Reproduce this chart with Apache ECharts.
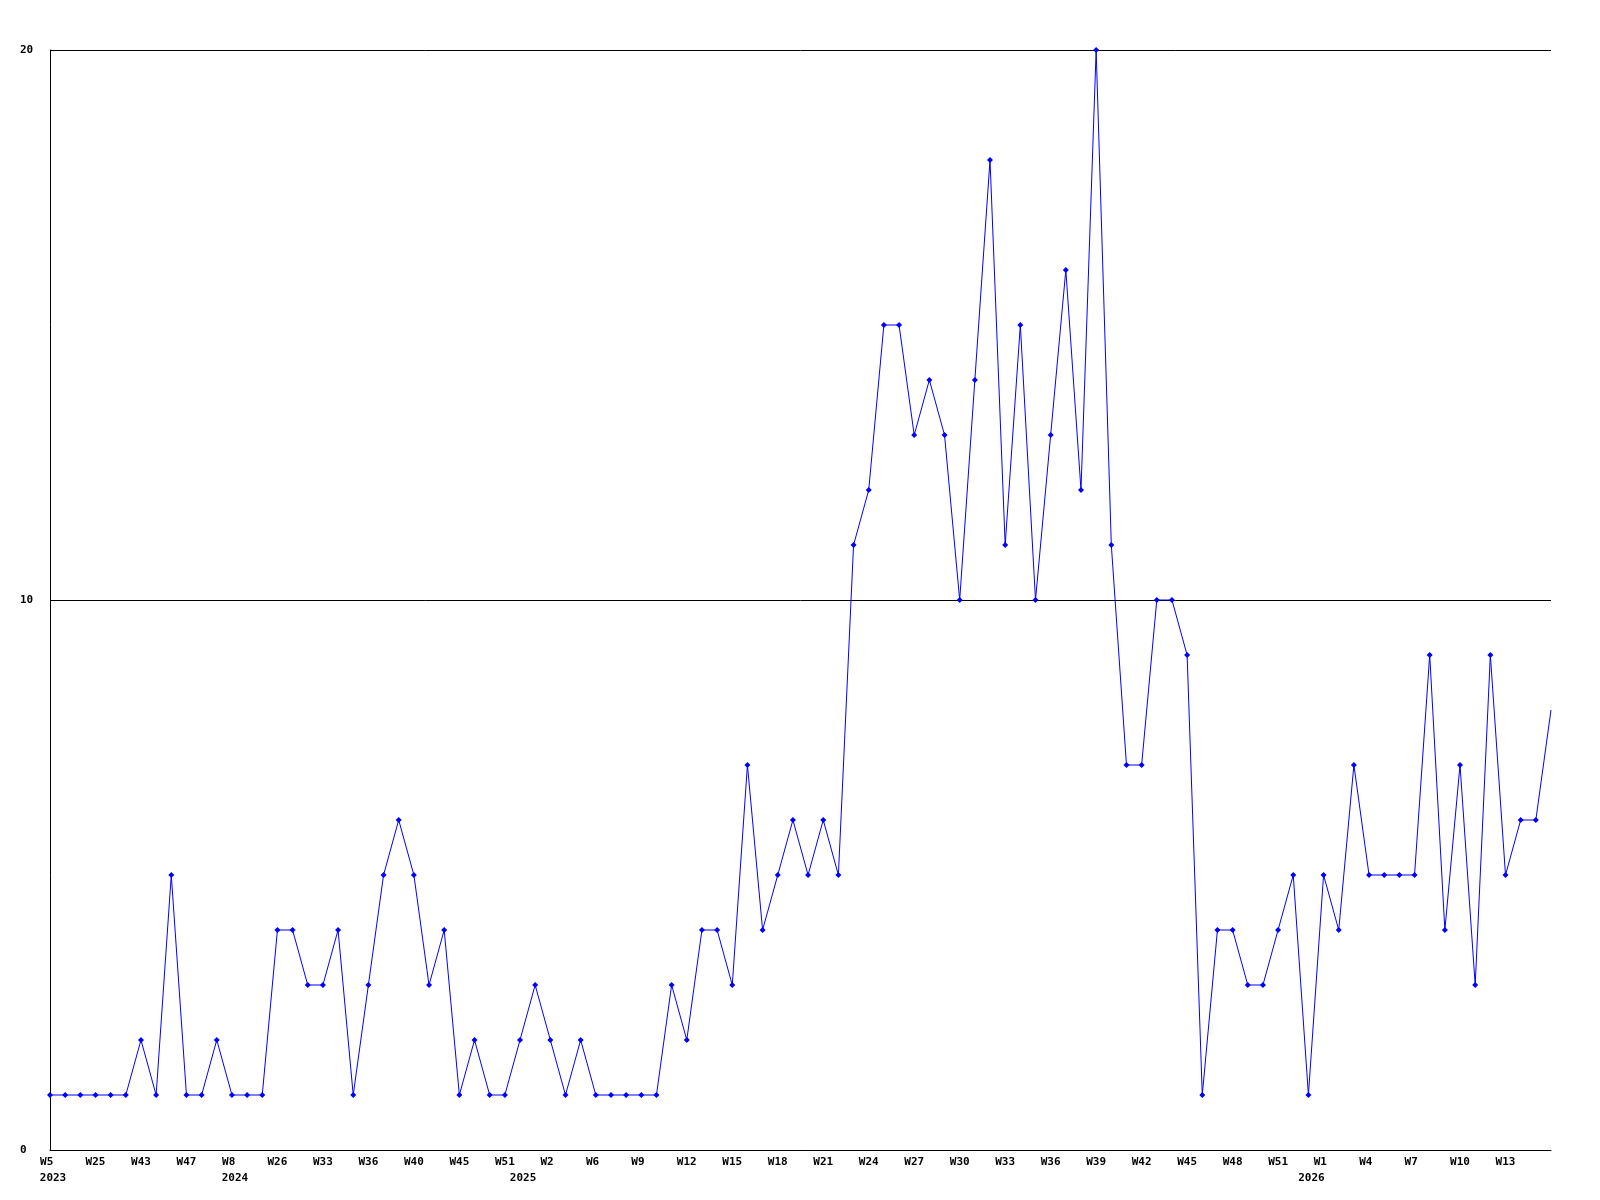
<!DOCTYPE html>
<html>
<head>
<meta charset="utf-8">
<title>Weekly count</title>
<script src="https://cdn.jsdelivr.net/npm/echarts@6/dist/echarts.min.js"></script>
<style>
  html, body { margin: 0; padding: 0; background: #fff; }
  #chart { width: 1600px; height: 1200px; }
</style>
</head>
<body>
<div id="chart"></div>
<script>
// week categories (only every 3rd one is labelled on the axis)
var weeks = [
  'W5', 'W12', 'W20', 'W25', 'W30', 'W38', 'W43', 'W44', 'W45', 'W47',
  'W49', 'W51', 'W8', 'W12', 'W20', 'W26', 'W28', 'W31', 'W33', 'W34',
  'W35', 'W36', 'W37', 'W38', 'W40', 'W41', 'W43', 'W45', 'W47', 'W49',
  'W51', 'W0', 'W1', 'W2', 'W3', 'W5', 'W6', 'W7', 'W8', 'W9',
  'W10', 'W11', 'W12', 'W13', 'W14', 'W15', 'W16', 'W17', 'W18', 'W19',
  'W20', 'W21', 'W22', 'W23', 'W24', 'W25', 'W26', 'W27', 'W28', 'W29',
  'W30', 'W31', 'W32', 'W33', 'W34', 'W35', 'W36', 'W37', 'W38', 'W39',
  'W40', 'W41', 'W42', 'W43', 'W44', 'W45', 'W46', 'W47', 'W48', 'W49',
  'W50', 'W51', 'W52', 'W0', 'W1', 'W2', 'W3', 'W4', 'W5', 'W6',
  'W7', 'W8', 'W9', 'W10', 'W11', 'W12', 'W13', 'W14', 'W15', 'W16'
]

var values = [
  1, 1, 1, 1, 1, 1, 2, 1, 5, 1,
  1, 2, 1, 1, 1, 4, 4, 3, 3, 4,
  1, 3, 5, 6, 5, 3, 4, 1, 2, 1,
  1, 2, 3, 2, 1, 2, 1, 1, 1, 1,
  1, 3, 2, 4, 4, 3, 7, 4, 5, 6,
  5, 6, 5, 11, 12, 15, 15, 13, 14, 13,
  10, 14, 18, 11, 15, 10, 13, 16, 12, 20,
  11, 7, 7, 10, 10, 9, 1, 4, 4, 3,
  3, 4, 5, 1, 5, 4, 7, 5, 5, 5,
  5, 9, 4, 7, 3, 9, 5, 6, 6, 8
]

// year labels, placed at the first week of each year
var yearStartIndex = [0, 12, 31, 83]
var yearLabels = ['2023', '2024', '2025', '2026']

var yTicks = { min: 0, max: 20, interval: 10 }

var labelFont = {
  fontFamily: 'DejaVu Sans Mono',
  fontWeight: 'bold',
  fontSize: 11,
  color: '#000'
}

var lastIndex = values.length - 1

var chart = echarts.init(document.getElementById('chart'))
chart.setOption({
  backgroundColor: '#fff',
  animation: false,
  grid: {
    left: 50,
    right: 49,
    top: 50,
    bottom: 50
  },
  xAxis: [
    {
      type: 'category',
      data: weeks,
      boundaryGap: false,
      axisLine: { show: true, lineStyle: { color: '#000', width: 1 } },
      axisTick: { show: false },
      splitLine: { show: false },
      axisLabel: Object.assign({}, labelFont, {
        margin: 7,
        interval: function(index) {
          return index % 3 === 0 && index < lastIndex
        },
        // pad to a fixed width so short labels sit like the longer ones
        formatter: function(v) {
          return v.padEnd(3, ' ')
        }
      })
    },
    {
      type: 'category',
      data: weeks,
      position: 'bottom',
      boundaryGap: false,
      axisLine: { show: false },
      axisTick: { show: false },
      splitLine: { show: false },
      axisLabel: Object.assign({}, labelFont, {
        margin: 23,
        padding: [0, 0, 0, 6],
        interval: function(index) {
          return yearStartIndex.indexOf(index) !== -1
        },
        formatter: function(v, index) {
          var k = yearStartIndex.indexOf(index)
          return k === -1 ? '' : yearLabels[k]
        }
      })
    }
  ],
  yAxis: {
    type: 'value',
    min: yTicks.min,
    max: yTicks.max,
    interval: yTicks.interval,
    axisLine: { show: true, lineStyle: { color: '#000', width: 1 } },
    axisTick: { show: false },
    splitLine: { show: true, lineStyle: { color: '#000', width: 1 } },
    axisLabel: Object.assign({}, labelFont, {
      align: 'left',
      margin: 30
    })
  },
  series: [
    {
      type: 'line',
      xAxisIndex: 0,
      data: values,
      color: '#0000ff',
      symbol: function(value, params) {
        return params.dataIndex === lastIndex ? 'none' : 'diamond'
      },
      symbolSize: 6,
      showAllSymbol: true,
      lineStyle: { color: '#0000ff', width: 1 },
      itemStyle: { color: '#0000ff', borderWidth: 0 }
    }
  ]
})
</script>
</body>
</html>
